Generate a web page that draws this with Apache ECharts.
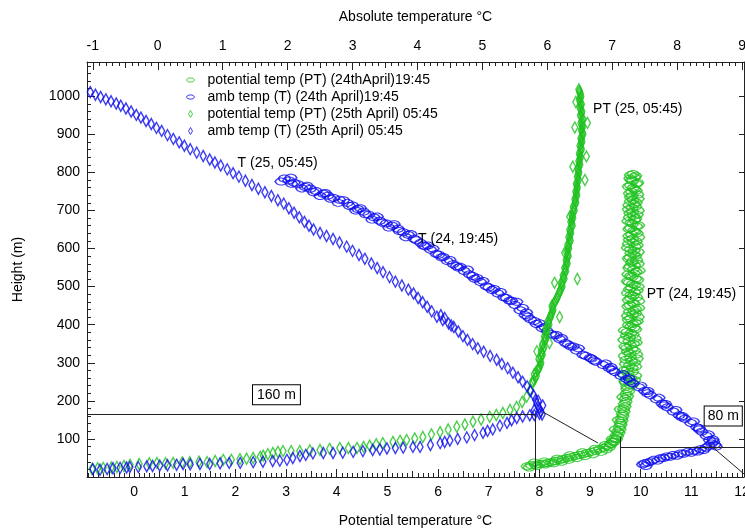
<!DOCTYPE html>
<html>
<head>
<meta charset="utf-8">
<script src="https://cdn.jsdelivr.net/npm/echarts@6/dist/echarts.min.js"></script>
<style>
  html, body { margin: 0; padding: 0; background: #fff; }
  #main { width: 745px; height: 532px; }
</style>
</head>
<body>
<div id="main"></div>
<script>
// ---- data ----
// heights in m, PT on the bottom axis, T on the top axis
var pt24 = [
  [7.76,28],[7.84,31],[7.92,32],[8.00,34],[8.08,35],[8.16,37],[8.24,39],[8.31,42],[8.40,44],[8.47,47],
  [8.55,50],[8.63,52],[8.71,55],[8.79,58],[8.87,60],[8.95,63],[9.03,66],[9.11,69],[9.19,73],[9.27,77],
  [9.34,81],[9.40,87],[9.45,94],[9.49,101],[9.52,110],[9.55,120],[9.58,131],[9.60,142],[9.62,154],[9.64,166],
  [9.66,179],[9.68,192],[9.70,205],[9.71,218],[9.73,231],
  [7.90,38],[8.10,41],[8.35,48],[8.60,57],[8.85,65],[9.10,74],[9.30,84],[9.44,100],[9.50,125],[9.56,150],
  [9.60,178],[9.65,210],
  [7.80,25],[7.95,29],[8.12,33],[8.28,36],[8.44,40],[8.58,45],[8.74,50],[8.90,55],[9.06,60],[9.22,66],
  [9.32,72],[9.38,78],[9.42,86],[9.47,92],[9.52,99],[9.54,107],[9.57,116],[9.59,125],[9.61,137],[9.63,148],
  [9.65,160],[9.67,172],[9.69,185],[9.71,198],[9.74,212],[9.76,225],
  [9.73,238],[9.85,245],[9.69,252],[9.81,259],[9.90,266],[9.75,273],[9.67,280],[9.83,287],[9.78,294],[9.88,301],
  [9.71,308],[9.80,315],[9.92,322],[9.74,329],[9.83,336],[9.69,343],[9.86,350],[9.77,357],[9.89,364],[9.72,371],
  [9.81,378],[9.68,385],[9.87,392],[9.76,399],[9.89,406],[9.76,413],[9.95,420],[9.84,427],[9.78,434],[9.90,441],
  [9.75,448],[9.87,455],[9.96,462],[9.80,469],[9.85,476],[9.74,483],[9.93,490],[9.82,497],[9.88,504],[9.77,511],
  [9.94,518],[9.83,525],[9.75,532],[9.91,539],[9.86,546],[9.79,553],[9.95,560],[9.84,567],[9.76,574],[9.90,581],
  [9.81,588],[9.87,595],[9.74,602],[9.93,609],[9.85,616],[9.78,623],[9.96,630],[9.82,637],[9.89,644],[9.77,651],
  [9.92,658],[9.84,665],[9.75,672],[9.90,679],[9.86,686],[9.79,693],[9.95,700],[9.83,707],[9.77,714],[9.91,721],
  [9.85,728],[9.80,735],[9.94,742],[9.82,749],[9.88,756],[9.76,763],[9.92,770],[9.84,777],[9.79,784],[9.90,791],
  [9.85,796],
  [9.80,241],[9.70,248],[9.88,255],[9.76,262],[9.66,269],[9.84,276],[9.74,283],[9.90,290],[9.70,297],[9.82,304],
  [9.93,311],[9.68,318],[9.79,325],[9.88,332],[9.72,339],[9.80,346],[9.91,353],[9.67,360],[9.78,367],[9.85,374],
  [9.73,381],[9.90,388],[9.80,395],[9.84,402],[9.93,409],[9.80,416],[9.74,423],[9.90,430],[9.86,437],[9.96,444],
  [9.79,451],[9.84,458],[9.76,465],[9.92,472],[9.81,479],[9.88,486],[9.78,493],[9.95,500],[9.84,507],[9.74,514],
  [9.90,521],[9.80,528],[9.87,535],[9.97,542],[9.77,549],[9.88,556],[9.82,563],[9.92,570],[9.79,577],[9.86,584],
  [9.95,591],[9.80,598],[9.89,605],[9.76,612],[9.91,619],[9.84,626],[9.77,633],[9.93,640],[9.86,647],[9.80,654],
  [9.96,661],[9.81,668],[9.88,675],[9.78,682],[9.93,689],[9.84,696],[9.76,703],[9.90,710],[9.87,717],[9.80,724],
  [9.95,731],[9.83,738],[9.78,745],[9.91,752],[9.85,759],[9.80,766],[9.94,773],[9.82,780],[9.88,787],[9.80,793]
];
var t24 = [
  [1.95,784],[2.02,779],[2.10,773],[2.16,769],[2.27,762],[2.35,757],[2.44,751],[2.55,744],[2.62,739],[2.71,733],
  [2.80,728],[2.92,720],[3.00,713],[3.08,704],[3.17,697],[3.25,689],[3.33,682],[3.42,673],[3.52,666],[3.61,660],
  [3.70,652],[3.78,643],[3.86,636],[3.95,626],[4.05,615],[4.12,606],[4.20,597],[4.29,586],[4.37,577],[4.46,567],
  [4.55,559],[4.63,550],[4.72,541],[4.80,532],[4.88,521],[4.97,512],[5.06,501],[5.15,491],[5.24,482],[5.33,472],
  [5.42,463],[5.50,452],[5.58,438],[5.66,425],[5.74,414],[5.83,402],[5.92,391],[6.00,383],[6.10,372],[6.19,362],
  [6.28,352],[6.36,343],[6.45,332],[6.55,321],[6.66,313],[6.75,303],[6.86,294],[6.95,286],[7.04,276],[7.13,266],
  [7.22,257],[7.32,246],[7.41,236],[7.50,226],[7.59,215],[7.68,204],[7.77,193],[7.85,183],[7.94,172],[8.03,162],
  [8.12,153],[8.21,142],[8.30,131],[8.38,119],[8.45,108],[8.50,97],[8.53,88],[8.49,82],[8.44,77],[8.36,73],
  [8.27,69],[8.16,66],[8.05,62],[7.94,58],[7.84,54],[7.74,49],[7.64,45],[7.55,38],[7.47,33],
  [2.05,786],[2.30,765],[2.58,746],[2.86,727],[3.12,706],[3.38,684],[3.64,664],[3.90,638],[4.16,608],[4.40,578],
  [4.66,552],[4.92,523],[5.18,494],[5.45,463],[5.68,432],[5.88,404],[6.14,373],[6.40,343],[6.68,311],[6.98,289],
  [7.26,259],[7.55,226],[7.82,192],[8.08,160],[8.34,128],[8.55,99],[8.58,85],[8.32,67],[8.00,56],[7.70,43],
  [7.52,29],
  [1.90,776],[2.06,770],[2.22,758],[2.40,748],[2.50,738],[2.66,731],[2.78,720],[2.95,712],[3.05,700],[3.20,690],
  [3.30,676],[3.46,668],[3.56,655],[3.72,646],[3.82,630],[3.98,622],[4.09,608],[4.24,600],[4.33,584],[4.50,570],
  [4.60,554],[4.77,545],[4.85,528],[5.01,515],[5.10,498],[5.28,486],[5.37,470],[5.53,460],[5.62,444],[5.70,421],
  [5.80,410],[5.96,394],[6.05,376],[6.22,365],[6.32,348],[6.48,338],[6.59,318],[6.72,306],[6.90,298],[7.00,281],
  [7.17,270],[7.27,251],[7.44,240],[7.54,220],[7.72,208],[7.80,188],[7.98,176],[8.07,157],[8.25,146],[8.34,125],
  [8.48,112],[8.56,93],[8.60,80],[8.41,71],[8.22,64],[8.10,61],[7.89,53],[7.79,50],[7.60,41],[7.50,36]
];
var pt25 = [
  [-0.83,21],[-0.72,23],[-0.61,24],[-0.45,25],[-0.34,26],[-0.20,29],[-0.08,32],[0.10,34],[0.30,36],[0.45,37],
  [0.62,36],[0.77,37],[0.95,38],[1.10,39],[1.28,40],[1.44,39],[1.60,42],[1.76,45],[1.92,45],[2.09,47],
  [2.22,48],[2.35,50],[2.49,53],[2.55,56],[2.64,60],[2.74,63],[2.84,66],[2.94,68],[3.10,68],[3.27,68],
  [3.47,70],[3.67,71],[3.86,74],[4.06,76],[4.23,76],[4.40,76],[4.53,79],[4.65,82],[4.78,86],[4.91,89],
  [5.11,92],[5.25,95],[5.38,97],[5.54,101],[5.70,105],[5.87,112],[6.04,118],[6.20,125],[6.37,132],[6.53,138],
  [6.69,145],[6.85,151],[7.02,158],[7.15,163],[7.28,168],[7.42,176],[7.55,184],[7.66,197],[7.75,211],[7.82,229],
  [7.87,247],
  [7.86,250],[7.92,260],[7.90,270],[7.97,280],[8.00,290],[8.03,300],[7.99,310],[8.06,320],[8.04,330],[8.09,340],
  [8.07,350],[8.12,360],[8.10,370],[8.16,380],[8.13,390],[8.19,400],[8.17,410],[8.22,420],[8.24,430],[8.27,440],
  [8.25,450],[8.31,460],[8.35,470],[8.38,480],[8.41,490],[8.45,500],[8.43,510],[8.49,520],[8.47,530],[8.52,540],
  [8.50,550],[8.55,560],[8.53,570],[8.57,580],[8.54,590],[8.58,600],[8.56,610],[8.61,620],[8.58,630],[8.62,640],
  [8.60,650],[8.65,660],[8.62,670],[8.66,680],[8.64,690],[8.69,700],[8.67,710],[8.72,720],[8.70,730],[8.74,740],
  [8.72,750],[8.75,760],[8.73,770],[8.77,780],[8.75,790],[8.78,800],[8.76,810],[8.80,820],[8.78,830],[8.81,840],
  [8.79,850],[8.83,860],[8.80,870],[8.84,880],[8.82,890],[8.86,900],[8.83,910],[8.85,920],[8.82,930],[8.86,940],
  [8.81,950],[8.84,960],[8.80,970],[8.83,980],[8.79,990],[8.82,1000],[8.80,1010],[8.78,1018],
  [7.89,255],[7.94,265],[7.93,275],[7.99,285],[8.02,295],[8.01,305],[8.03,315],[8.05,325],[8.07,335],[8.06,345],
  [8.10,355],[8.11,365],[8.13,375],[8.14,385],[8.16,395],[8.18,405],[8.20,415],[8.23,425],[8.26,435],[8.26,445],
  [8.28,455],[8.33,465],[8.36,475],[8.40,485],[8.43,495],[8.44,505],[8.46,515],[8.48,525],[8.50,535],[8.51,545],
  [8.53,555],[8.54,565],[8.55,575],[8.56,585],[8.56,595],[8.57,605],[8.59,615],[8.60,625],[8.60,635],[8.61,645],
  [8.63,655],[8.64,665],[8.64,675],[8.65,685],[8.67,695],[8.68,705],[8.70,715],[8.71,725],[8.72,735],[8.73,745],
  [8.74,755],[8.74,765],[8.75,775],[8.76,785],[8.77,795],[8.77,805],[8.78,815],[8.79,825],[8.80,835],[8.80,845],
  [8.81,855],[8.82,865],[8.82,875],[8.83,885],[8.84,895],[8.85,905],[8.84,915],[8.84,925],[8.84,935],[8.83,945],
  [8.83,955],[8.82,965],[8.82,975],[8.81,985],[8.81,995],[8.81,1005],[8.79,1014],
  [8.70,918],[8.93,842],[8.60,684],[8.50,589],[8.72,985],[8.95,930],[8.66,815],[8.90,780],[8.75,520],[8.30,510],
  [8.40,420],[8.20,352],[7.95,330]
];
var t25 = [
  [-1.04,1011],[-0.96,1004],[-0.88,998],[-0.80,992],[-0.72,987],[-0.64,981],[-0.57,975],[-0.49,968],[-0.41,960],[-0.33,951],
  [-0.26,944],[-0.18,935],[-0.10,927],[-0.02,917],[0.06,909],[0.15,898],[0.24,888],[0.33,879],[0.41,870],[0.50,861],
  [0.60,852],[0.70,843],[0.80,834],[0.88,826],[0.97,818],[1.07,808],[1.16,798],[1.25,789],[1.35,778],[1.45,767],
  [1.55,757],[1.65,748],[1.75,738],[1.85,727],[1.94,718],[2.02,706],[2.10,694],[2.18,682],[2.26,670],[2.33,660],
  [2.40,650],[2.50,641],[2.60,633],[2.70,625],[2.80,616],[2.91,605],[3.00,594],[3.10,583],[3.19,573],[3.29,561],
  [3.38,549],[3.47,538],[3.57,525],[3.66,513],[3.76,503],[3.86,492],[3.94,482],[4.01,470],[4.08,459],[4.15,447],
  [4.22,435],[4.30,421],[4.39,412],[4.48,403],[4.56,394],[4.63,382],[4.70,370],[4.77,360],[4.85,349],[4.93,338],
  [5.02,329],[5.12,318],[5.22,308],[5.30,297],[5.39,286],[5.47,274],[5.55,262],[5.62,250],[5.69,238],[5.74,226],
  [5.79,214],[5.82,203],[5.84,192],[5.87,181],[5.90,172],[5.92,164],
  [4.36,425],[4.42,418],[4.52,398],[5.86,200],[5.93,188],[5.80,176],
  [5.88,166],[5.80,163],[5.73,162],[5.62,159],[5.53,155],[5.45,149],[5.38,142],[5.27,135],[5.16,125],[5.08,121],
  [5.01,116],[4.88,110],[4.76,104],[4.62,100],[4.50,96],[4.42,92],[4.35,89],[4.20,84],[4.04,79],[3.93,79],
  [3.78,77],[3.66,76],[3.53,75],[3.42,72],[3.31,71],[3.16,68],[3.01,66],[2.85,64],[2.70,63],[2.55,63],
  [2.39,62],[2.28,58],[2.19,55],[2.08,50],[1.99,45],[1.88,43],[1.77,42],[1.62,40],[1.47,39],[1.27,37],
  [1.10,37],[0.96,36],[0.80,34],[0.65,34],[0.50,33],[0.39,34],[0.29,32],[0.15,31],[0.03,30],[-0.08,29],
  [-0.17,28],[-0.30,26],[-0.43,26],[-0.48,25],[-0.58,24],[-0.69,23],[-0.78,21],[-0.89,19],[-1.00,21]
];

// tick labels
var topTicks = [-1, 0, 1, 2, 3, 4, 5, 6, 7, 8, 9];
var bottomTicks = [0, 1, 2, 3, 4, 5, 6, 7, 8, 9, 10, 11, 12];
var heightTicks = [100, 200, 300, 400, 500, 600, 700, 800, 900, 1000];

var seriesNames = [
  'potential temp (PT) (24thApril)19:45',
  'amb temp (T) (24th April)19:45',
  'potential temp (PT) (25th April) 05:45',
  'amb temp (T) (25th April) 05:45'
];

// axis ranges
var PT_MIN = -0.93, PT_MAX = 12.04;
var T_MIN = -1.09, T_MAX = 9.03;
var H_MIN = 0, H_MAX = 1090;

var GREEN = '#1fc21f';
var BLUE = '#0c0cee';
var FONT = 'Liberation Sans, Arial, sans-serif';

var OVAL = 'path://M0,3L1.5,1L4,0L6,0L8.5,1L10,3L8.5,5L6,6L4,6L1.5,5Z';
var OVAL_ICON = 'path://M0,0M3,6L4,4.6L5.5,4L8.5,4L10,4.6L11,6L10,7.4L8.5,8L5.5,8L4,7.4ZM14,12';
var DIAMOND_ICON = 'path://M0,0M7,2.5L9,6L7,9.5L5,6ZM14,12';

function steps(lo, hi, keep) {
  var out = [];
  for (var i = Math.ceil(lo * 10); i <= Math.floor(hi * 10); i++) {
    if (keep(i)) out.push(i / 10);
  }
  return out;
}
var isMinor = function (i) { return i % 5 !== 0; };
var isHalf = function (i) { return i % 5 === 0 && i % 10 !== 0; };
var hMinor = [];
for (var h = 20; h < H_MAX; h += 20) { if (h % 100 !== 0) hMinor.push(h); }

var labelStyle = { color: '#000', fontSize: 14, fontFamily: FONT };
var axisLineStyle = { show: true, onZero: false, lineStyle: { color: '#222', width: 1 } };
var plainNum = function (v) { return String(v); };

function tickAxis(pos, min, max, values, len) {
  return {
    type: 'value', position: pos, min: min, max: max,
    axisLine: { show: false, onZero: false },
    axisTick: { show: true, inside: true, length: len, customValues: values, lineStyle: { color: '#222' } },
    axisLabel: { show: false },
    splitLine: { show: false }
  };
}

var chart = echarts.init(document.getElementById('main'), null, { renderer: 'canvas' });

var option = {
  backgroundColor: '#fff',
  animation: false,
  grid: { left: 87, right: 1, top: 62, bottom: 55, containLabel: false, outerBoundsMode: 'none' },
  legend: {
    orient: 'vertical', left: 178, top: 68,
    itemWidth: 14, itemHeight: 12, itemGap: 3,
    textStyle: { color: '#000', fontSize: 14, fontFamily: FONT, padding: [0, 0, 0, 5] },
    data: [
      { name: seriesNames[0], icon: OVAL_ICON, itemStyle: { color: 'rgba(0,0,0,0)', borderColor: GREEN, borderWidth: 1 } },
      { name: seriesNames[1], icon: OVAL_ICON, itemStyle: { color: 'rgba(0,0,0,0)', borderColor: BLUE, borderWidth: 1 } },
      { name: seriesNames[2], icon: DIAMOND_ICON, itemStyle: { color: 'rgba(0,0,0,0)', borderColor: GREEN, borderWidth: 1 } },
      { name: seriesNames[3], icon: DIAMOND_ICON, itemStyle: { color: 'rgba(0,0,0,0)', borderColor: BLUE, borderWidth: 1 } }
    ]
  },
  xAxis: [
    {
      type: 'value', position: 'bottom', min: PT_MIN, max: PT_MAX,
      name: 'Potential temperature °C', nameLocation: 'middle', nameGap: 37,
      nameTextStyle: labelStyle,
      axisLine: axisLineStyle,
      axisTick: { show: true, inside: true, length: 8, customValues: bottomTicks, lineStyle: { color: '#222' } },
      axisLabel: Object.assign({ margin: 8, customValues: bottomTicks, formatter: plainNum }, labelStyle),
      splitLine: { show: false }
    },
    tickAxis('bottom', PT_MIN, PT_MAX, steps(PT_MIN, PT_MAX, isMinor), 4),
    tickAxis('bottom', PT_MIN, PT_MAX, steps(PT_MIN, PT_MAX, isHalf), 6),
    {
      type: 'value', position: 'top', min: T_MIN, max: T_MAX,
      name: 'Absolute temperature °C', nameLocation: 'middle', nameGap: 38,
      nameTextStyle: labelStyle,
      axisLine: axisLineStyle,
      axisTick: { show: true, inside: true, length: 8, customValues: topTicks, lineStyle: { color: '#222' } },
      axisLabel: Object.assign({ margin: 9, customValues: topTicks, formatter: plainNum }, labelStyle),
      splitLine: { show: false }
    },
    tickAxis('top', T_MIN, T_MAX, steps(T_MIN, T_MAX, isMinor), 4),
    tickAxis('top', T_MIN, T_MAX, steps(T_MIN, T_MAX, isHalf), 6)
  ],
  yAxis: [
    {
      type: 'value', position: 'left', min: H_MIN, max: H_MAX,
      name: 'Height (m)', nameLocation: 'middle', nameGap: 62, nameRotate: 90,
      nameTextStyle: labelStyle,
      axisLine: axisLineStyle,
      axisTick: { show: true, inside: true, length: 8, customValues: heightTicks, lineStyle: { color: '#222' } },
      axisLabel: Object.assign({ margin: 7, customValues: heightTicks, formatter: plainNum }, labelStyle),
      splitLine: { show: false }
    },
    tickAxis('left', H_MIN, H_MAX, hMinor, 4),
    {
      type: 'value', position: 'right', min: H_MIN, max: H_MAX,
      axisLine: axisLineStyle,
      axisTick: { show: true, inside: true, length: 5, customValues: heightTicks, lineStyle: { color: '#222' } },
      axisLabel: { show: false },
      splitLine: { show: false }
    }
  ],
  series: [
    {
      name: seriesNames[0], type: 'scatter', xAxisIndex: 0, yAxisIndex: 0,
      data: pt24, symbol: OVAL, symbolSize: [12, 7],
      itemStyle: { color: 'rgba(0,0,0,0)', borderColor: GREEN, borderWidth: 1.3 },
      markPoint: {
        symbol: 'circle', symbolSize: 0, silent: true,
        label: { show: true, color: '#000', fontSize: 14, fontFamily: FONT },
        data: [
          { coord: [10.12, 479], label: { position: 'right', distance: 0, formatter: 'PT (24, 19:45)' } },
          { coord: [11.63, 160], label: { position: 'inside', formatter: '80 m', borderColor: '#000', borderWidth: 1, padding: [3, 3, 2, 3], backgroundColor: '#fff' } }
        ]
      },
      markLine: {
        symbol: ['none', 'none'], silent: true, animation: false,
        label: { show: false },
        lineStyle: { color: '#222', width: 1, type: 'solid' },
        data: [
          [{ coord: [9.59, 79] }, { coord: [PT_MAX, 79] }],
          [{ coord: [9.59, 105] }, { coord: [9.59, 0] }],
          [{ coord: [11.37, 84] }, { coord: [12.04, 8] }]
        ]
      }
    },
    {
      name: seriesNames[1], type: 'scatter', xAxisIndex: 3, yAxisIndex: 0,
      data: t24, symbol: OVAL, symbolSize: [12, 7],
      itemStyle: { color: 'rgba(0,0,0,0)', borderColor: BLUE, borderWidth: 1.3 },
      markPoint: {
        symbol: 'circle', symbolSize: 0, silent: true,
        label: { show: true, color: '#000', fontSize: 14, fontFamily: FONT, position: 'right', distance: 0 },
        data: [{ coord: [4.01, 624], label: { formatter: 'T (24, 19:45)' } }]
      }
    },
    {
      name: seriesNames[2], type: 'scatter', xAxisIndex: 0, yAxisIndex: 0,
      data: pt25, symbol: 'diamond', symbolSize: [6, 11],
      itemStyle: { color: 'rgba(0,0,0,0)', borderColor: GREEN, borderWidth: 1.5 },
      markPoint: {
        symbol: 'circle', symbolSize: 0, silent: true,
        label: { show: true, color: '#000', fontSize: 14, fontFamily: FONT },
        data: [
          { coord: [9.06, 966], label: { position: 'right', distance: 0, formatter: 'PT (25, 05:45)' } },
          { coord: [2.81, 216], label: { position: 'inside', formatter: '160 m', borderColor: '#000', borderWidth: 1, padding: [3, 4, 2, 4], backgroundColor: '#fff' } }
        ]
      },
      markLine: {
        symbol: ['none', 'none'], silent: true, animation: false,
        label: { show: false },
        lineStyle: { color: '#222', width: 1, type: 'solid' },
        data: [
          [{ coord: [PT_MIN, 166] }, { coord: [7.91, 166] }],
          [{ coord: [7.91, 166] }, { coord: [7.91, 0] }],
          [{ coord: [8.07, 171] }, { coord: [9.16, 89] }]
        ]
      }
    },
    {
      name: seriesNames[3], type: 'scatter', xAxisIndex: 3, yAxisIndex: 0,
      data: t25, symbol: 'diamond', symbolSize: [6, 11],
      itemStyle: { color: 'rgba(0,0,0,0)', borderColor: BLUE, borderWidth: 1.5 },
      markPoint: {
        symbol: 'circle', symbolSize: 0, silent: true,
        label: { show: true, color: '#000', fontSize: 14, fontFamily: FONT, position: 'right', distance: 0 },
        data: [{ coord: [1.23, 824], label: { formatter: 'T (25, 05:45)' } }]
      }
    }
  ]
};

chart.setOption(option);
</script>
</body>
</html>
